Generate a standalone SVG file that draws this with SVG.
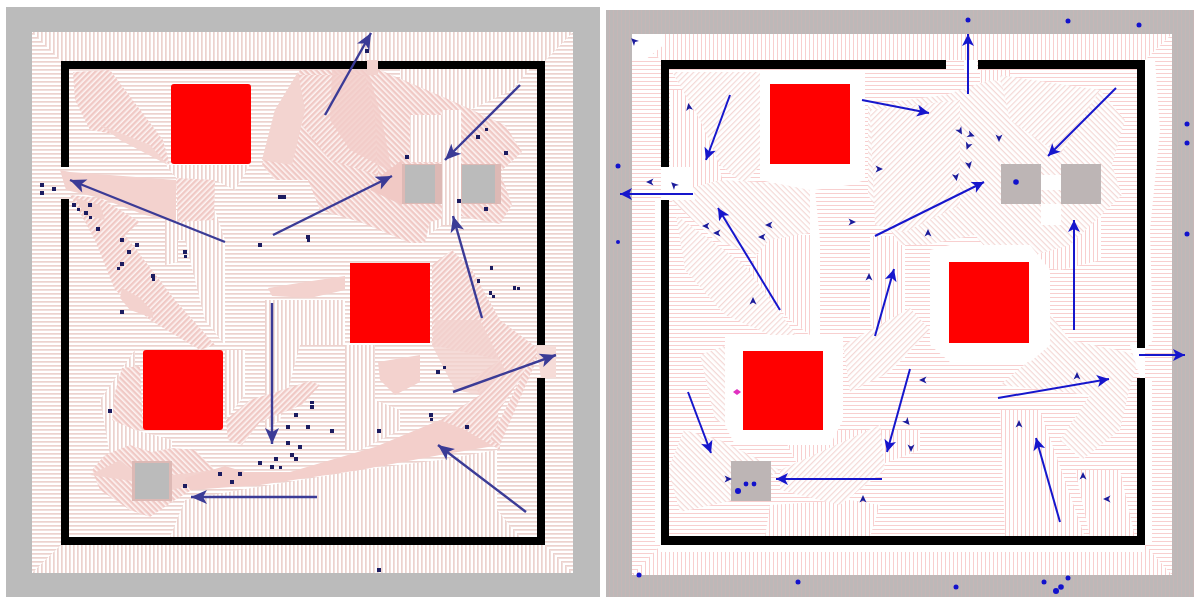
<svg xmlns="http://www.w3.org/2000/svg" width="1194" height="597" viewBox="0 0 1194 597">
<style>
.w{fill:#000}.r{fill:#f00}.gl{fill:#bbb}.gr{fill:#bdb5b5}
.al{stroke:#3b3b96;stroke-width:2.4;fill:none;marker-end:url(#ml)}
.ar{stroke:#1616cc;stroke-width:2;fill:none;marker-end:url(#mr)}
.dl{fill:#1c1c60}.dr{fill:#1212cc}.sm{fill:#1c1c9c}
</style>
<defs>
<marker id="ml" markerUnits="userSpaceOnUse" markerWidth="24" markerHeight="20" refX="18" refY="10" orient="auto"><path d="M18,10L2,3L6,10L2,17Z" fill="#3b3b96"/></marker>
<marker id="mr" markerUnits="userSpaceOnUse" markerWidth="20" markerHeight="18" refX="15" refY="9" orient="auto"><path d="M15,9L3,3L6,9L3,15Z" fill="#1616cc"/></marker>
<pattern id="lh" width="4" height="4" patternUnits="userSpaceOnUse"><rect width="4" height="4" fill="#fff"/><rect y="1" width="4" height="1.7" fill="#ecd2ce"/></pattern>
<pattern id="lv" width="4" height="4" patternUnits="userSpaceOnUse"><rect width="4" height="4" fill="#fff"/><rect x="1" width="1.7" height="4" fill="#ecd2ce"/></pattern>
<pattern id="ld" width="4" height="4" patternUnits="userSpaceOnUse" patternTransform="rotate(45)"><rect width="4" height="4" fill="#fdf4f3"/><rect y="1" width="4" height="2.4" fill="#f0c9c5"/></pattern>
<pattern id="le" width="4" height="4" patternUnits="userSpaceOnUse" patternTransform="rotate(-45)"><rect width="4" height="4" fill="#fdf4f3"/><rect y="1" width="4" height="2.4" fill="#f0c9c5"/></pattern>
<pattern id="rh" width="4" height="4" patternUnits="userSpaceOnUse"><rect width="4" height="4" fill="#fff"/><rect y="1" width="4" height="1" fill="#f8cfcf"/></pattern>
<pattern id="rv" width="4" height="4" patternUnits="userSpaceOnUse"><rect width="4" height="4" fill="#fff"/><rect x="1" width="1" height="4" fill="#f8cfcf"/></pattern>
<pattern id="rd" width="4" height="4" patternUnits="userSpaceOnUse" patternTransform="rotate(45)"><rect width="4" height="4" fill="#fff"/><rect y="1" width="4" height="1.2" fill="#f4d8d6"/></pattern>
<pattern id="re" width="4" height="4" patternUnits="userSpaceOnUse" patternTransform="rotate(-45)"><rect width="4" height="4" fill="#fff"/><rect y="1" width="4" height="1.2" fill="#f4d8d6"/></pattern>
<pattern id="og" width="4" height="4" patternUnits="userSpaceOnUse"><rect width="4" height="4" fill="#bdb8b8"/><rect x="1" width="1" height="4" fill="#c6b6b6"/></pattern>
<path id="c" d="M4,0L-3.5,-3.5L-1.5,0L-3.5,3.5Z" class="sm"/>
</defs>
<rect width="1194" height="597" fill="#fff"/>

<g id="left-panel">
<rect x="6" y="7" width="594" height="590" class="gl"/>
<rect x="32" y="32" width="541" height="541" fill="url(#lh)"/>
<path d="M32,32H573L545,61H61ZM32,573H573L545,545H61Z" fill="url(#lv)"/>
<rect x="69" y="69" width="468" height="468" fill="url(#lh)"/>
<g fill="url(#lv)">
<path d="M170,537H520L497,510V450L440,460L360,470L240,490L185,500Z"/>
<path d="M400,69H530L512,90L470,110L400,90Z"/>
<path d="M165,165H250L235,190L215,180H178Z"/>
<path d="M165,210H215L225,240H178V262L165,265Z"/>
<path d="M185,240H225V345L205,320Z"/>
<path d="M265,300H345V345H300L280,420L265,430Z"/>
<path d="M225,350H245V395L225,420Z"/>
<path d="M100,400L135,350V430L172,440V455H110Z"/>
<path d="M410,115H445V165H410ZM420,205H442V225L422,240Z"/>
<path d="M345,345H375V400L400,410V430L360,450H345Z"/>
</g>
<path d="M262,165L275,110L300,70H366L380,70L450,100L505,125L522,152L500,172L512,205L500,224L455,215L430,222L425,243H410L360,222L320,210L308,180L275,180Z" fill="url(#ld)"/>
<path d="M300,75H365L375,115L378,175L330,160L298,120Z" fill="url(#le)"/>
<path d="M262,160L275,110L298,72L305,110L292,165Z" fill="#f3d4d0"/>
<path d="M332,70H368L382,120L392,172L350,150L330,120Z" fill="#f2cdc9" opacity=".8"/>
<path d="M382,175L402,160V205L370,190Z" fill="#f1c9c5"/>
<path d="M410,115H445V162H410Z" fill="url(#lv)"/>
<path d="M442,110H461V225H442Z" fill="url(#lv)"/>
<path d="M73,72L110,70L163,140L170,165L120,135L90,130L75,100Z" fill="url(#le)"/>
<path d="M100,125L150,145L168,165L120,140Z" fill="#f4d5d1"/>
<path d="M60,170L70,172L176,180V222L145,215L100,198L66,190Z" fill="#f3d2ce"/>
<path d="M176,178L215,180L214,220L178,222Z" fill="url(#le)"/>
<path d="M70,195L100,198L140,222L125,235L175,300L215,345L200,350L150,320L115,290L95,240Z" fill="url(#le)"/>
<path d="M122,288L140,298L153,312V318L130,310L120,298Z" fill="#f3d2ce"/>
<path d="M75,198L100,205L105,220L85,215Z" fill="#f3d2ce"/>
<path d="M268,288L305,282L345,276V290L310,298L272,296Z" fill="#f3d2ce"/>
<path d="M378,362L420,355V382L395,395L380,380Z" fill="#f3d2ce"/>
<path d="M115,392L122,368L140,366L143,430H135L112,420Z" fill="url(#ld)"/>
<path d="M92,470L105,455L130,445L152,452L172,448L195,450L215,470L200,485L175,500L150,517L130,510L100,490Z" fill="url(#ld)"/>
<path d="M90,475L132,481V470L120,460ZM172,475L215,470V478L172,490Z" fill="#f3d2ce"/>
<path d="M226,420L250,400L310,381L320,385L302,405L260,422L242,445L228,440Z" fill="url(#le)"/>
<path d="M185,478L225,466L245,472L290,472L375,447L440,420L497,425L500,445L440,455L360,470L260,485L190,490Z" fill="#f3cfcb"/>
<path d="M432,265L452,250L472,270L500,320L540,350L498,412L500,450L465,430L440,420L480,395L470,380L500,360L432,345Z" fill="url(#le)"/>
<path d="M435,320H480L505,370L480,395L455,390L432,345Z" fill="#f3d2ce" opacity=".8"/>
<path d="M490,440L525,370L541,350L500,445Z" fill="url(#ld)"/>
<path d="M367,60H378V75H367Z" fill="#f3d2ce"/>
<path d="M536,346H556V378H541Z" fill="#f6dcd8"/>
<g id="obstacles-left">
<rect x="171" y="84" width="80" height="80" rx="3" class="r"/>
<rect x="350" y="263" width="80" height="80" class="r"/>
<rect x="143" y="350" width="80" height="80" rx="3" class="r"/>
<rect x="402" y="164" width="40" height="40" fill="#ddb9b5"/><rect x="405" y="165" width="30" height="38" class="gl"/>
<rect x="461" y="164" width="40" height="40" fill="#ddb9b5"/><rect x="462" y="165" width="33" height="38" class="gl"/>
<rect x="132" y="461" width="40" height="40" fill="#ddb9b5"/><rect x="135" y="463" width="34" height="36" class="gl"/>
</g>
<g id="walls-left" class="w">
<rect x="61" y="61" width="306" height="8"/><rect x="378" y="61" width="167" height="8"/>
<rect x="61" y="61" width="8" height="106"/><rect x="61" y="199" width="8" height="346"/>
<rect x="537" y="61" width="8" height="284"/><rect x="537" y="378" width="8" height="167"/>
<rect x="61" y="537" width="484" height="8"/>
</g>
<g id="dots-left" class="dl">
<path d="M40,183h4v4h-4zM40,191h4v4h-4zM52,187h4v4h-4zM72,203h4v4h-4zM88,203h4v4h-4zM77,208h3v3h-3zM84,211h4v4h-4zM89,216h3v3h-3zM96,227h4v4h-4zM120,238h4v4h-4zM135,243h4v4h-4zM127,250h4v4h-4zM120,262h4v4h-4zM117,267h3v3h-3zM151,274h4v4h-4zM152,278h3v3h-3zM183,250h4v4h-4zM184,255h3v3h-3zM120,310h4v4h-4zM278,195h4v4h-4zM282,195h4v4h-4zM258,243h4v4h-4zM306,235h4v4h-4zM307,239h3v3h-3z"/>
<path d="M365,49h4v4h-4zM405,155h4v4h-4zM476,135h4v4h-4zM485,128h3v3h-3zM504,151h4v4h-4zM457,199h4v4h-4zM484,207h4v4h-4zM108,409h4v4h-4zM310,401h4v3h-4zM310,405h4v4h-4zM294,413h4v4h-4zM286,425h4v4h-4zM306,425h4v4h-4zM330,429h4v4h-4zM286,441h4v4h-4zM298,445h4v4h-4zM290,453h4v4h-4zM294,457h4v4h-4zM274,457h4v4h-4zM258,461h4v4h-4zM270,465h4v4h-4zM279,466h3v3h-3zM218,472h4v4h-4zM238,472h4v4h-4zM230,480h4v4h-4zM183,484h4v4h-4zM377,429h4v4h-4zM429,413h4v4h-4zM430,418h3v3h-3zM465,425h4v4h-4zM377,568h4v4h-4zM436,370h4v4h-4zM443,366h3v3h-3zM490,266h3v4h-3zM477,279h3v4h-3zM489,291h3v4h-3zM492,295h3v3h-3zM513,286h3v4h-3zM517,287h3v3h-3z"/>
</g>
</g>

<g id="right-panel">
<rect x="606" y="10" width="588" height="587" fill="url(#og)"/>
<rect x="632" y="34" width="540" height="541" fill="url(#rh)"/>
<path d="M632,34H1172L1145,60H661ZM632,575H1172L1145,545H661Z" fill="url(#rv)"/>
<path d="M632,34H665V44L645,60H632ZM1145,60H1155L1160,130L1150,230L1153,340L1145,350ZM655,200H661V545H655ZM1145,380H1152V545H1145ZM660,545H1145V552H660Z" fill="#fff"/>
<rect x="669" y="68" width="468" height="469" fill="url(#rh)"/>
<g fill="url(#rv)">
<path d="M770,235H810V335L790,320L745,275Z"/>
<path d="M1000,410H1040L1085,537H1005Z"/>
<path d="M870,537L880,505L850,500L770,505L765,537Z"/>
<path d="M1075,470H1120L1135,537H1090Z"/>
<path d="M980,70H1010V120L1000,200L980,180Z"/>
<path d="M1000,204H1101V260L1060,270L1000,260Z"/>
<path d="M870,236H905V360L880,360L870,320Z"/>
<path d="M670,90L700,90L725,190H690L670,180Z"/>
<path d="M780,430H920V450L880,465L800,470Z"/>
</g>
<path d="M672,72L760,72L760,165L745,185L720,165L700,120Z" fill="url(#re)"/>
<path d="M665,195L720,180L815,185L815,232L770,240L755,255L715,240Z" fill="url(#rd)"/>
<path d="M676,215L745,265L800,340L770,335L725,315L685,270Z" fill="url(#re)"/>
<path d="M868,105L945,95L990,80L1100,90L1125,120L1112,165L1122,195L1070,245L1000,265L975,235L925,245L900,245L868,195Z" fill="url(#rd)"/>
<path d="M870,110L960,100V205L905,232L875,225Z" fill="url(#re)"/>
<path d="M1000,75L1100,90L1060,155L1010,120Z" fill="url(#re)"/>
<path d="M1040,300L1070,340L1140,355L1128,395L1120,430L1082,460L1060,440L1090,395L1000,385L1030,360Z" fill="url(#rd)"/>
<path d="M684,430L720,440L780,470L735,500L680,512L668,470Z" fill="url(#rd)"/>
<path d="M780,470L880,425L885,470L840,505L780,490Z" fill="url(#re)"/>
<path d="M843,345L910,308L930,330L890,372L850,392Z" fill="url(#re)"/>
<path d="M700,355L740,340V430L715,420Z" fill="url(#rd)"/>
<g fill="#fff">
<path d="M760,72H865V180L850,185L815,190L820,240V340L810,340V190L760,180Z"/>
<path d="M930,250L950,245H1030L1050,270V345L1030,362H950L930,345Z"/>
<path d="M725,335H843V420L830,445H735L725,425Z"/>
<path d="M964,60H977V70H964ZM1130,345H1145V378H1140ZM661,167H690L695,200H661ZM1041,204H1061V225H1041ZM1041,175H1061V190H1041Z"/>
</g>
<g id="obstacles-right">
<rect x="770" y="84" width="80" height="80" class="r"/>
<rect x="949" y="262" width="80" height="81" class="r"/>
<rect x="743" y="351" width="80" height="79" class="r"/>
<rect x="1001" y="164" width="40" height="40" class="gr"/>
<rect x="1061" y="164" width="40" height="40" class="gr"/>
<rect x="731" y="461" width="40" height="40" class="gr"/>
</g>
<g id="walls-right" class="w">
<rect x="661" y="60" width="285" height="9"/><rect x="978" y="60" width="167" height="9"/>
<rect x="661" y="60" width="8" height="107"/><rect x="661" y="200" width="8" height="345"/>
<rect x="1137" y="60" width="8" height="288"/><rect x="1137" y="378" width="8" height="167"/>
<rect x="661" y="536" width="484" height="9"/>
</g>
<g id="dots-right" class="dr">
<circle cx="968" cy="20" r="2.5"/><circle cx="1068" cy="21" r="2.5"/><circle cx="1139" cy="25" r="2.5"/><circle cx="1187" cy="124" r="2.5"/><circle cx="1187" cy="143" r="2.5"/><circle cx="1187" cy="234" r="2.5"/><circle cx="618" cy="166" r="2.5"/><circle cx="618" cy="242" r="2"/><circle cx="1016" cy="182" r="2.8"/><circle cx="639" cy="575" r="2.5"/><circle cx="798" cy="582" r="2.5"/><circle cx="956" cy="587" r="2.5"/><circle cx="1044" cy="582" r="2.5"/><circle cx="1068" cy="578" r="2.5"/><circle cx="1061" cy="587" r="2.8"/><circle cx="1056" cy="591" r="3"/><circle cx="738" cy="491" r="3"/><circle cx="746" cy="484" r="2.4"/><circle cx="754" cy="484" r="2.4"/>
</g>
<path d="M733,392l4,-3l4,3l-4,3Z" fill="#e030c0"/>
<g id="small-heads-right">
<use href="#c" transform="translate(634,41) rotate(-135)"/><use href="#c" transform="translate(689,107) rotate(-100)"/><use href="#c" transform="translate(650,182) rotate(180)"/><use href="#c" transform="translate(674,185) rotate(-135)"/><use href="#c" transform="translate(879,169)"/><use href="#c" transform="translate(706,226) rotate(180)"/><use href="#c" transform="translate(717,233) rotate(180)"/><use href="#c" transform="translate(769,225) rotate(180)"/><use href="#c" transform="translate(762,237) rotate(180)"/><use href="#c" transform="translate(753,301) rotate(-90)"/><use href="#c" transform="translate(852,222)"/><use href="#c" transform="translate(869,277) rotate(-90)"/><use href="#c" transform="translate(928,233) rotate(-90)"/><use href="#c" transform="translate(923,380) rotate(180)"/><use href="#c" transform="translate(960,131) rotate(60)"/><use href="#c" transform="translate(971,135) rotate(20)"/><use href="#c" transform="translate(968,146) rotate(110)"/><use href="#c" transform="translate(969,165) rotate(80)"/><use href="#c" transform="translate(956,177) rotate(80)"/><use href="#c" transform="translate(999,138) rotate(90)"/><use href="#c" transform="translate(907,422) rotate(50)"/><use href="#c" transform="translate(911,448) rotate(90)"/><use href="#c" transform="translate(728,479)"/><use href="#c" transform="translate(863,499) rotate(-90)"/><use href="#c" transform="translate(1019,424) rotate(-90)"/><use href="#c" transform="translate(1083,476) rotate(-90)"/><use href="#c" transform="translate(1107,499) rotate(180)"/><use href="#c" transform="translate(1077,376) rotate(-90)"/>
</g>
</g>

<g id="connectors">
<path class="al" d="M325,115L371,33"/><path class="al" d="M520,85L445,160"/><path class="al" d="M225,242L70,180"/><path class="al" d="M273,235L392,176"/><path class="al" d="M482,318L453,216"/><path class="al" d="M272,303V444"/><path class="al" d="M453,392L556,355"/><path class="al" d="M526,512L438,445"/><path class="al" d="M317,497H191"/>
<path class="ar" d="M968,94V34"/><path class="ar" d="M1116,88L1048,156"/><path class="ar" d="M730,95L706,160"/><path class="ar" d="M862,100L929,113"/><path class="ar" d="M693,194H620"/><path class="ar" d="M875,236L984,182"/><path class="ar" d="M780,310L718,208"/><path class="ar" d="M875,336L894,269"/><path class="ar" d="M1074,330V220"/><path class="ar" d="M1139,355H1185"/><path class="ar" d="M998,398L1109,379"/><path class="ar" d="M910,369L887,452"/><path class="ar" d="M688,392L711,453"/><path class="ar" d="M882,479H776"/><path class="ar" d="M1060,522L1036,438"/>
</g>
</svg>
